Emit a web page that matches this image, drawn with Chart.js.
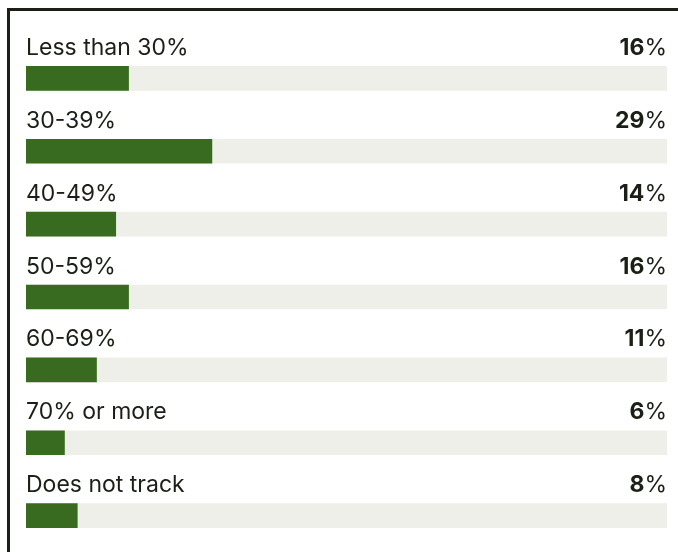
<!DOCTYPE html>
<html>
<head>
<meta charset="utf-8">
<script src="https://cdn.jsdelivr.net/npm/chart.js@4/dist/chart.umd.min.js"></script>
<style>
  body { margin: 0; background: #fff; }
  #wrap { position: relative; width: 678px; height: 552px; }
  #frame {
    position: absolute; left: 7px; top: 8px; right: 0; bottom: 0;
    border-top: 3px solid #1b2017; border-left: 3px solid #1b2017;
  }
  canvas { position: absolute; left: 0; top: 0; }
</style>
</head>
<body>
<div id="wrap">
  <div id="frame"></div>
  <canvas id="chart" width="678" height="552"></canvas>
</div>
<script>
const categories = ['Less than 30%', '30-39%', '40-49%', '50-59%', '60-69%', '70% or more', 'Does not track']
const shares = [16, 29, 14, 16, 11, 6, 8]
const fullScale = 100

const textColor = '#1b2017'
const fontFamily = 'Inter, "Liberation Sans", sans-serif'

const labelsPlugin = {
    id: 'rowLabels',
    afterDatasetsDraw(chart) {
        const ctx = chart.ctx
        const area = chart.chartArea
        const meta = chart.getDatasetMeta(0)
        ctx.save()
        ctx.fillStyle = textColor
        ctx.textBaseline = 'alphabetic'
        meta.data.forEach((bar, i) => {
            const top = bar.y - bar.height / 2
            const baseline = top - 11.5
            // category name
            ctx.font = '23px ' + fontFamily
            ctx.textAlign = 'left'
            ctx.fillText(categories[i], area.left, baseline)
            // value: bold number, regular percent sign
            ctx.textAlign = 'right'
            ctx.font = '23px ' + fontFamily
            const pctW = ctx.measureText('%').width
            ctx.fillText('%', area.right, baseline)
            ctx.font = 'bold 23px ' + fontFamily
            ctx.fillText(String(shares[i]), area.right - pctW, baseline)
        })
        ctx.restore()
    }
}

new Chart(document.getElementById('chart').getContext('2d'), {
    type: 'bar',
    data: {
        labels: categories,
        datasets: [
            {
                data: shares,
                backgroundColor: '#386a20',
                barThickness: 24,
                grouped: false
            },
            {
                data: categories.map(() => fullScale),
                backgroundColor: '#efefe9',
                barThickness: 24,
                grouped: false
            }
        ]
    },
    options: {
        indexAxis: 'y',
        responsive: false,
        animation: false,
        layout: { padding: { left: 26, right: 11, top: 42, bottom: 0 } },
        scales: {
            x: { display: false, min: 0, max: fullScale },
            y: { display: false }
        },
        plugins: {
            legend: { display: false },
            tooltip: { enabled: false }
        }
    },
    plugins: [labelsPlugin]
})
</script>
</body>
</html>
